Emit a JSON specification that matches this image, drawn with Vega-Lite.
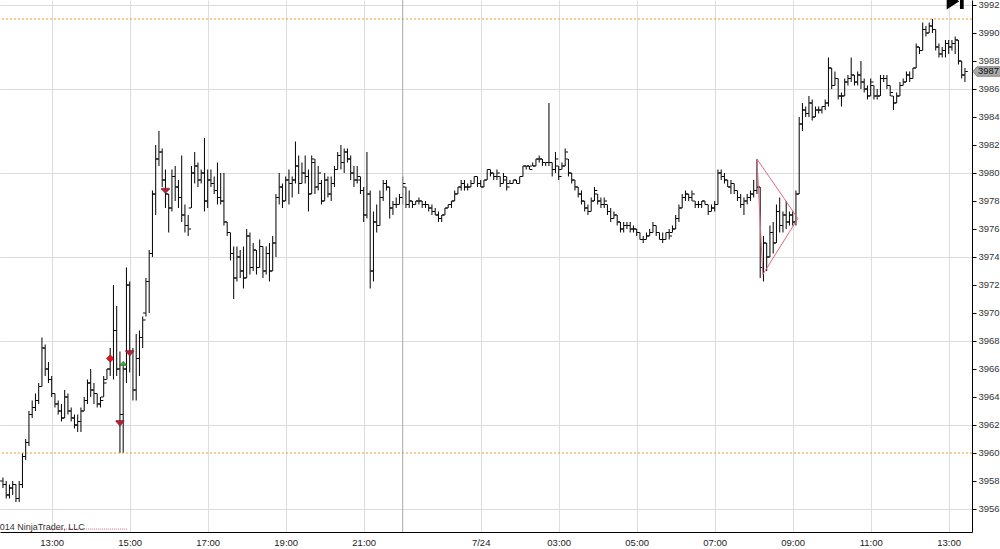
{
"$schema": "https://vega.github.io/schema/vega-lite/v6.json",
"width": 972, "height": 532,
"autosize": {"type": "none"},
"padding": {"left": 0, "top": 0, "right": 28, "bottom": 17},
"background": "white",
"config": {"view": {"stroke": null}, "font": "Liberation Sans"},
"resolve": {"axis": {"x": "independent", "y": "independent"}},
"datasets": {
"bars": [
{"i":-15,"o":3958,"h":3958.25,"l":3957.5,"c":3957.75},
{"i":-14,"o":3957.75,"h":3958,"l":3956.75,"c":3957},
{"i":-13,"o":3957,"h":3957.75,"l":3956.75,"c":3957.5},
{"i":-12,"o":3957.5,"h":3958,"l":3957,"c":3957.75},
{"i":-11,"o":3957.75,"h":3957.75,"l":3956.5,"c":3956.75},
{"i":-10,"o":3956.75,"h":3958,"l":3956.5,"c":3957.75},
{"i":-9,"o":3957.75,"h":3960,"l":3957.5,"c":3959.75},
{"i":-8,"o":3959.75,"h":3961,"l":3959.5,"c":3960.75},
{"i":-7,"o":3960.75,"h":3963,"l":3960.5,"c":3962.75},
{"i":-6,"o":3962.75,"h":3963.75,"l":3962.5,"c":3963.25},
{"i":-5,"o":3963.25,"h":3964.25,"l":3963,"c":3963.75},
{"i":-4,"o":3963.75,"h":3965,"l":3963.5,"c":3964.75},
{"i":-3,"o":3964.75,"h":3968.25,"l":3964.75,"c":3967.5},
{"i":-2,"o":3967.5,"h":3967.75,"l":3965.5,"c":3966},
{"i":-1,"o":3966,"h":3966.5,"l":3965,"c":3965.25},
{"i":0,"o":3965.25,"h":3965.5,"l":3964,"c":3964.25},
{"i":1,"o":3964.25,"h":3964.25,"l":3963.25,"c":3963.5},
{"i":2,"o":3963.5,"h":3963.75,"l":3962.75,"c":3963},
{"i":3,"o":3963,"h":3963.5,"l":3962.25,"c":3962.5},
{"i":4,"o":3962.5,"h":3964.5,"l":3962.5,"c":3964},
{"i":5,"o":3964,"h":3964.25,"l":3962.75,"c":3963},
{"i":6,"o":3963,"h":3963.25,"l":3962.25,"c":3962.5},
{"i":7,"o":3962.5,"h":3962.75,"l":3961.75,"c":3962},
{"i":8,"o":3962,"h":3962.75,"l":3961.5,"c":3962.25},
{"i":9,"o":3962.25,"h":3963.25,"l":3961.5,"c":3963},
{"i":10,"o":3963,"h":3964,"l":3963,"c":3963.75},
{"i":11,"o":3963.75,"h":3965.25,"l":3963.5,"c":3965},
{"i":12,"o":3965,"h":3966,"l":3964,"c":3964.5},
{"i":13,"o":3964.5,"h":3965,"l":3963.5,"c":3964.25},
{"i":14,"o":3964.25,"h":3964.25,"l":3963.25,"c":3963.5},
{"i":15,"o":3963.5,"h":3964,"l":3963.25,"c":3963.75},
{"i":16,"o":3964,"h":3965.5,"l":3964,"c":3965},
{"i":17,"o":3965.25,"h":3966,"l":3965.25,"c":3966},
{"i":18,"o":3966,"h":3967.5,"l":3965.5,"c":3966.75},
{"i":19,"o":3966.75,"h":3972,"l":3965.25,"c":3968.75},
{"i":20,"o":3968.75,"h":3970.5,"l":3965.5,"c":3966},
{"i":21,"o":3966,"h":3967.25,"l":3960,"c":3962.75},
{"i":22,"o":3962.75,"h":3966.25,"l":3960,"c":3966},
{"i":23,"o":3966,"h":3973.25,"l":3965,"c":3972},
{"i":24,"o":3972,"h":3972.25,"l":3965.75,"c":3967.25},
{"i":25,"o":3967.25,"h":3967.5,"l":3963.75,"c":3964.5},
{"i":26,"o":3964.5,"h":3968.5,"l":3963.75,"c":3966.75},
{"i":27,"o":3966.75,"h":3968.75,"l":3965.5,"c":3968.25},
{"i":28,"o":3968.25,"h":3969.75,"l":3967.5,"c":3969.5},
{"i":29,"o":3970,"h":3972.5,"l":3969.75,"c":3972.25},
{"i":30,"o":3972.25,"h":3974.5,"l":3970,"c":3974.25},
{"i":31,"o":3974.25,"h":3978.75,"l":3974,"c":3978.5},
{"i":32,"o":3978.5,"h":3982,"l":3977,"c":3981},
{"i":33,"o":3981,"h":3983,"l":3980.5,"c":3981.5},
{"i":34,"o":3981.5,"h":3981.75,"l":3979,"c":3979.5},
{"i":35,"o":3979.5,"h":3980.25,"l":3977.5,"c":3978.5},
{"i":36,"o":3978.5,"h":3978.5,"l":3975.75,"c":3977.5},
{"i":37,"o":3977.5,"h":3980.25,"l":3977.25,"c":3979.75},
{"i":38,"o":3979.75,"h":3980.5,"l":3978,"c":3979},
{"i":39,"o":3979,"h":3979.5,"l":3977.5,"c":3978.25},
{"i":40,"o":3978.25,"h":3981.25,"l":3976.5,"c":3977},
{"i":41,"o":3977,"h":3977.75,"l":3975.75,"c":3976.25},
{"i":42,"o":3976.25,"h":3977,"l":3975.5,"c":3976},
{"i":43,"o":3977.5,"h":3980.5,"l":3977.5,"c":3980},
{"i":44,"o":3980,"h":3981.5,"l":3979.25,"c":3980.5},
{"i":45,"o":3980.5,"h":3980.75,"l":3979,"c":3979.5},
{"i":46,"o":3979.5,"h":3980.25,"l":3979.25,"c":3980},
{"i":47,"o":3980,"h":3982.5,"l":3977.25,"c":3978},
{"i":48,"o":3978,"h":3980.25,"l":3977.5,"c":3979.5},
{"i":49,"o":3979.5,"h":3980.25,"l":3979,"c":3979.25},
{"i":50,"o":3979.25,"h":3979.75,"l":3978.5,"c":3978.75},
{"i":51,"o":3978.75,"h":3980.75,"l":3977.75,"c":3978.25},
{"i":52,"o":3978.25,"h":3980,"l":3977.75,"c":3978},
{"i":53,"o":3978,"h":3980,"l":3976.25,"c":3976.5},
{"i":54,"o":3976.5,"h":3976.5,"l":3975.5,"c":3975.75},
{"i":55,"o":3975.75,"h":3975.75,"l":3973.75,"c":3974.25},
{"i":56,"o":3974.25,"h":3974.75,"l":3971,"c":3972.5},
{"i":57,"o":3972.5,"h":3974.75,"l":3972.25,"c":3974},
{"i":58,"o":3974,"h":3974.5,"l":3972.5,"c":3973},
{"i":59,"o":3973,"h":3974.75,"l":3971.75,"c":3972.5},
{"i":60,"o":3972.5,"h":3976,"l":3972.5,"c":3975.5},
{"i":61,"o":3975.5,"h":3975.75,"l":3972.75,"c":3973.25},
{"i":62,"o":3973.25,"h":3975,"l":3973,"c":3974.5},
{"i":63,"o":3974.5,"h":3974.5,"l":3972.75,"c":3973.25},
{"i":64,"o":3973.25,"h":3975.25,"l":3973.25,"c":3974.75},
{"i":65,"o":3974.75,"h":3974.75,"l":3972.5,"c":3973},
{"i":66,"o":3973,"h":3974.75,"l":3972.75,"c":3974.25},
{"i":67,"o":3974.25,"h":3975,"l":3972.25,"c":3973},
{"i":68,"o":3973,"h":3975.5,"l":3973,"c":3975},
{"i":69,"o":3975,"h":3978.5,"l":3974,"c":3978.25},
{"i":70,"o":3978.25,"h":3980,"l":3977.75,"c":3979},
{"i":71,"o":3979,"h":3979.25,"l":3977.5,"c":3978},
{"i":72,"o":3978,"h":3979.75,"l":3978,"c":3979.5},
{"i":73,"o":3979.5,"h":3980.25,"l":3977.75,"c":3979.25},
{"i":74,"o":3979.25,"h":3979.75,"l":3978.25,"c":3979.5},
{"i":75,"o":3979.5,"h":3982.25,"l":3979.25,"c":3980.5},
{"i":76,"o":3980.5,"h":3981.25,"l":3978.5,"c":3979.25},
{"i":77,"o":3979.25,"h":3980.75,"l":3979.25,"c":3980},
{"i":78,"o":3980,"h":3981.25,"l":3979.25,"c":3979.75},
{"i":79,"o":3979.75,"h":3980.25,"l":3977.25,"c":3978.5},
{"i":80,"o":3978.5,"h":3981.25,"l":3978.5,"c":3981},
{"i":81,"o":3980.75,"h":3981,"l":3978.5,"c":3979},
{"i":82,"o":3979,"h":3980.5,"l":3978.75,"c":3980},
{"i":83,"o":3979.25,"h":3979.5,"l":3977.75,"c":3978},
{"i":84,"o":3978,"h":3980,"l":3978,"c":3979.5},
{"i":85,"o":3979.5,"h":3979.75,"l":3978.25,"c":3978.5},
{"i":86,"o":3978.5,"h":3979.75,"l":3978,"c":3979.25},
{"i":87,"o":3979.25,"h":3980.5,"l":3979,"c":3980.25},
{"i":88,"o":3980.25,"h":3981.5,"l":3980.25,"c":3981.25},
{"i":89,"o":3981.25,"h":3982,"l":3980.25,"c":3980.75},
{"i":90,"o":3980.75,"h":3981.75,"l":3980,"c":3981.5},
{"i":91,"o":3981.5,"h":3981.75,"l":3980.75,"c":3981},
{"i":92,"o":3981,"h":3981.25,"l":3979.5,"c":3980},
{"i":93,"o":3980,"h":3980.5,"l":3979,"c":3979.5},
{"i":94,"o":3979.5,"h":3980.5,"l":3979.25,"c":3979.75},
{"i":95,"o":3979.5,"h":3979.75,"l":3978.5,"c":3978.75},
{"i":96,"o":3978.75,"h":3979,"l":3976.5,"c":3977},
{"i":97,"o":3977,"h":3981.5,"l":3976.75,"c":3978.5},
{"i":98,"o":3978.5,"h":3978.75,"l":3971.75,"c":3973},
{"i":99,"o":3973,"h":3977.25,"l":3972.25,"c":3976.5},
{"i":100,"o":3976.5,"h":3977.75,"l":3975.75,"c":3976.25},
{"i":101,"o":3976.25,"h":3978.75,"l":3976.25,"c":3978.25},
{"i":102,"o":3978.25,"h":3979.5,"l":3978,"c":3979.25},
{"i":103,"o":3979.25,"h":3979.5,"l":3978.75,"c":3979},
{"i":104,"o":3979,"h":3979,"l":3976.75,"c":3977.5},
{"i":105,"o":3977.5,"h":3978,"l":3977,"c":3977.75},
{"i":106,"o":3977.75,"h":3978.25,"l":3977.5,"c":3977.75},
{"i":107,"o":3977.75,"h":3978.5,"l":3977.75,"c":3978.25},
{"i":108,"o":3978.25,"h":3979.75,"l":3977.75,"c":3979.25},
{"i":109,"o":3979,"h":3979,"l":3977.5,"c":3977.75},
{"i":110,"o":3977.75,"h":3978.75,"l":3977.5,"c":3978},
{"i":111,"o":3978,"h":3978,"l":3977.5,"c":3977.75},
{"i":112,"o":3977.75,"h":3978,"l":3977.75,"c":3978},
{"i":113,"o":3978,"h":3978.25,"l":3977.75,"c":3978},
{"i":114,"o":3978,"h":3978,"l":3977.5,"c":3977.75},
{"i":115,"o":3977.75,"h":3978,"l":3977.5,"c":3977.75},
{"i":116,"o":3977.75,"h":3977.75,"l":3977.25,"c":3977.5},
{"i":117,"o":3977.5,"h":3977.75,"l":3977,"c":3977.25},
{"i":118,"o":3977.25,"h":3977.5,"l":3977,"c":3977},
{"i":119,"o":3977,"h":3977.25,"l":3976.5,"c":3976.75},
{"i":120,"o":3976.75,"h":3977,"l":3976.5,"c":3977},
{"i":121,"o":3977,"h":3977.5,"l":3977,"c":3977.5},
{"i":122,"o":3977.5,"h":3977.75,"l":3977.5,"c":3977.75},
{"i":123,"o":3977.75,"h":3978,"l":3977.5,"c":3978},
{"i":124,"o":3978,"h":3978.75,"l":3978,"c":3978.5},
{"i":125,"o":3978.5,"h":3979,"l":3978.5,"c":3979},
{"i":126,"o":3979,"h":3979.5,"l":3978.75,"c":3979.25},
{"i":127,"o":3979.25,"h":3979.5,"l":3978.75,"c":3979},
{"i":128,"o":3979,"h":3979.25,"l":3978.75,"c":3979},
{"i":129,"o":3979,"h":3979.5,"l":3979,"c":3979.25},
{"i":130,"o":3979.25,"h":3979.75,"l":3979.25,"c":3979.75},
{"i":131,"o":3979.75,"h":3979.75,"l":3979,"c":3979.25},
{"i":132,"o":3979.25,"h":3979.5,"l":3979,"c":3979},
{"i":133,"o":3979,"h":3979.5,"l":3979,"c":3979.5},
{"i":134,"o":3979.5,"h":3980.25,"l":3979.5,"c":3980.25},
{"i":135,"o":3980.25,"h":3980.25,"l":3979.75,"c":3980},
{"i":136,"o":3980,"h":3980,"l":3979.5,"c":3979.75},
{"i":137,"o":3979.75,"h":3980.25,"l":3979.5,"c":3980},
{"i":138,"o":3979.75,"h":3979.75,"l":3979,"c":3979.25},
{"i":139,"o":3979.25,"h":3980,"l":3979.25,"c":3979.75},
{"i":140,"o":3979.5,"h":3979.75,"l":3978.75,"c":3979},
{"i":141,"o":3979.25,"h":3979.5,"l":3979.25,"c":3979.25},
{"i":142,"o":3979.25,"h":3979.5,"l":3979.25,"c":3979.5},
{"i":143,"o":3979.5,"h":3979.5,"l":3979.25,"c":3979.25},
{"i":144,"o":3979.25,"h":3979.75,"l":3979.25,"c":3979.75},
{"i":145,"o":3979.75,"h":3980.5,"l":3979.75,"c":3980.5},
{"i":146,"o":3980.5,"h":3980.5,"l":3980.25,"c":3980.5},
{"i":147,"o":3980.5,"h":3980.5,"l":3980.25,"c":3980.25},
{"i":148,"o":3980.5,"h":3980.75,"l":3980.5,"c":3980.5},
{"i":149,"o":3980.5,"h":3981,"l":3980.5,"c":3981},
{"i":150,"o":3981,"h":3981.25,"l":3980.75,"c":3981},
{"i":151,"o":3981,"h":3981,"l":3980.5,"c":3980.75},
{"i":152,"o":3980.75,"h":3980.75,"l":3980.5,"c":3980.75},
{"i":153,"o":3980.75,"h":3985,"l":3980.5,"c":3980.75},
{"i":154,"o":3980.75,"h":3980.75,"l":3979.75,"c":3980.25},
{"i":155,"o":3980.25,"h":3981.5,"l":3980,"c":3981},
{"i":156,"o":3980.5,"h":3980.5,"l":3979.5,"c":3979.75},
{"i":157,"o":3980.25,"h":3980.75,"l":3980.25,"c":3980.5},
{"i":158,"o":3980.5,"h":3981.75,"l":3980.5,"c":3981.5},
{"i":159,"o":3981,"h":3981,"l":3979.75,"c":3980},
{"i":160,"o":3980,"h":3980,"l":3979.25,"c":3979.5},
{"i":161,"o":3979.5,"h":3979.5,"l":3978.75,"c":3979},
{"i":162,"o":3979,"h":3979,"l":3978.25,"c":3978.5},
{"i":163,"o":3978.5,"h":3978.75,"l":3977.75,"c":3978},
{"i":164,"o":3978,"h":3978,"l":3977.25,"c":3977.5},
{"i":165,"o":3977.5,"h":3977.75,"l":3977,"c":3977.25},
{"i":166,"o":3977.25,"h":3978.25,"l":3977.25,"c":3978},
{"i":167,"o":3978,"h":3979,"l":3978,"c":3978.75},
{"i":168,"o":3978.5,"h":3978.5,"l":3977.75,"c":3978},
{"i":169,"o":3978,"h":3978.25,"l":3977.5,"c":3977.75},
{"i":170,"o":3977.75,"h":3978.25,"l":3977.5,"c":3978},
{"i":171,"o":3977.75,"h":3977.75,"l":3977,"c":3977.25},
{"i":172,"o":3977.25,"h":3977.5,"l":3976.5,"c":3976.75},
{"i":173,"o":3976.75,"h":3977.25,"l":3976.75,"c":3977},
{"i":174,"o":3977,"h":3977,"l":3976.25,"c":3976.5},
{"i":175,"o":3976.5,"h":3976.5,"l":3975.75,"c":3976},
{"i":176,"o":3976,"h":3976.5,"l":3975.75,"c":3976.25},
{"i":177,"o":3976.25,"h":3976.5,"l":3976,"c":3976.25},
{"i":178,"o":3976.25,"h":3976.5,"l":3975.75,"c":3976},
{"i":179,"o":3976,"h":3976.25,"l":3975.75,"c":3976},
{"i":180,"o":3976,"h":3976,"l":3975.5,"c":3975.75},
{"i":181,"o":3975.75,"h":3975.75,"l":3975.25,"c":3975.25},
{"i":182,"o":3975.25,"h":3975.5,"l":3975,"c":3975.25},
{"i":183,"o":3975.25,"h":3975.75,"l":3975.25,"c":3975.5},
{"i":184,"o":3975.5,"h":3976,"l":3975.5,"c":3975.75},
{"i":185,"o":3975.75,"h":3976.5,"l":3975.75,"c":3976.25},
{"i":186,"o":3976.25,"h":3976.25,"l":3975.5,"c":3975.75},
{"i":187,"o":3975.75,"h":3975.75,"l":3975.25,"c":3975.25},
{"i":188,"o":3975.25,"h":3975.75,"l":3975,"c":3975.25},
{"i":189,"o":3975.25,"h":3975.75,"l":3975.25,"c":3975.75},
{"i":190,"o":3975.75,"h":3976,"l":3975.25,"c":3975.5},
{"i":191,"o":3975.75,"h":3976.25,"l":3975.75,"c":3976},
{"i":192,"o":3976,"h":3977,"l":3976,"c":3976.75},
{"i":193,"o":3976.75,"h":3977.75,"l":3976.5,"c":3977.5},
{"i":194,"o":3977.5,"h":3978.5,"l":3977.5,"c":3978.25},
{"i":195,"o":3978.25,"h":3978.75,"l":3978,"c":3978.5},
{"i":196,"o":3978.5,"h":3978.5,"l":3978,"c":3978.25},
{"i":197,"o":3978.25,"h":3978.75,"l":3978,"c":3978.5},
{"i":198,"o":3978,"h":3978,"l":3977.5,"c":3977.75},
{"i":199,"o":3977.75,"h":3978,"l":3977.5,"c":3977.75},
{"i":200,"o":3977.75,"h":3978,"l":3977.5,"c":3978},
{"i":201,"o":3978,"h":3978,"l":3977.75,"c":3977.75},
{"i":202,"o":3977.75,"h":3977.75,"l":3977,"c":3977.25},
{"i":203,"o":3977.25,"h":3977.75,"l":3977.25,"c":3977.5},
{"i":204,"o":3977.5,"h":3978,"l":3977.25,"c":3977.75},
{"i":205,"o":3977.75,"h":3980.25,"l":3977.75,"c":3980},
{"i":206,"o":3980,"h":3980.25,"l":3979.5,"c":3979.75},
{"i":207,"o":3979.75,"h":3980,"l":3979.25,"c":3979.5},
{"i":208,"o":3979.5,"h":3979.5,"l":3979,"c":3979},
{"i":209,"o":3979,"h":3979.5,"l":3978.5,"c":3979.25},
{"i":210,"o":3979.25,"h":3979.25,"l":3978.5,"c":3978.75},
{"i":211,"o":3978.75,"h":3978.75,"l":3978,"c":3978.25},
{"i":212,"o":3978.25,"h":3978.5,"l":3977.5,"c":3977.75},
{"i":213,"o":3977.75,"h":3978.25,"l":3977,"c":3978},
{"i":214,"o":3978,"h":3978.5,"l":3977.75,"c":3978.25},
{"i":215,"o":3978.25,"h":3978.75,"l":3978,"c":3978.5},
{"i":216,"o":3978.5,"h":3979.5,"l":3978.25,"c":3978.75},
{"i":217,"o":3978.75,"h":3981,"l":3978.5,"c":3979},
{"i":218,"o":3979,"h":3979,"l":3972.5,"c":3973.25},
{"i":219,"o":3973.25,"h":3975.5,"l":3972.25,"c":3975},
{"i":220,"o":3975,"h":3975,"l":3973,"c":3974},
{"i":221,"o":3974,"h":3976.25,"l":3974,"c":3975.75},
{"i":222,"o":3975.75,"h":3976.5,"l":3974.25,"c":3975},
{"i":223,"o":3975,"h":3977.75,"l":3975,"c":3977.25},
{"i":224,"o":3977.25,"h":3978.25,"l":3975.75,"c":3976.25},
{"i":225,"o":3976.25,"h":3977.25,"l":3975.75,"c":3977},
{"i":226,"o":3977,"h":3978,"l":3976,"c":3976.5},
{"i":227,"o":3976.5,"h":3977.25,"l":3976.25,"c":3977},
{"i":228,"o":3977,"h":3977.25,"l":3976.25,"c":3976.5},
{"i":229,"o":3976.5,"h":3978.75,"l":3976.25,"c":3978.5},
{"i":230,"o":3978.5,"h":3984,"l":3978.5,"c":3983.5},
{"i":231,"o":3983.5,"h":3985,"l":3983,"c":3984.5},
{"i":232,"o":3984.5,"h":3984.75,"l":3984,"c":3984.25},
{"i":233,"o":3984.25,"h":3985.5,"l":3984,"c":3985},
{"i":234,"o":3985,"h":3985.25,"l":3983.75,"c":3984},
{"i":235,"o":3984,"h":3984.75,"l":3984,"c":3984.5},
{"i":236,"o":3984.5,"h":3984.75,"l":3984.25,"c":3984.5},
{"i":237,"o":3984.5,"h":3984.75,"l":3984.25,"c":3984.75},
{"i":238,"o":3984.75,"h":3985.25,"l":3984.5,"c":3985},
{"i":239,"o":3985,"h":3988.25,"l":3984.75,"c":3987.5},
{"i":240,"o":3987.5,"h":3987.5,"l":3986,"c":3986.25},
{"i":241,"o":3986.25,"h":3987.25,"l":3986.25,"c":3986.75},
{"i":242,"o":3986.75,"h":3986.75,"l":3985.25,"c":3985.5},
{"i":243,"o":3985.5,"h":3985.75,"l":3984.75,"c":3985.5},
{"i":244,"o":3985.5,"h":3986.75,"l":3985.5,"c":3986.5},
{"i":245,"o":3986.5,"h":3987,"l":3986.25,"c":3986.75},
{"i":246,"o":3986.75,"h":3988.25,"l":3986.5,"c":3987},
{"i":247,"o":3987,"h":3987,"l":3986.25,"c":3986.5},
{"i":248,"o":3986.5,"h":3987.25,"l":3986.25,"c":3987},
{"i":249,"o":3987,"h":3988,"l":3986,"c":3986.5},
{"i":250,"o":3986.5,"h":3986.75,"l":3985.75,"c":3986},
{"i":251,"o":3986,"h":3986.25,"l":3985.25,"c":3985.5},
{"i":252,"o":3985.5,"h":3986.75,"l":3985.5,"c":3986.5},
{"i":253,"o":3986.25,"h":3986.25,"l":3985.25,"c":3985.5},
{"i":254,"o":3985.5,"h":3986,"l":3985.25,"c":3985.5},
{"i":255,"o":3985.5,"h":3987,"l":3985.5,"c":3986.75},
{"i":256,"o":3986.75,"h":3987,"l":3986.5,"c":3986.75},
{"i":257,"o":3986.75,"h":3987,"l":3986,"c":3986.25},
{"i":258,"o":3986.25,"h":3986.25,"l":3985.5,"c":3985.75},
{"i":259,"o":3985.5,"h":3985.5,"l":3984.5,"c":3985},
{"i":260,"o":3985,"h":3985.75,"l":3985,"c":3985.5},
{"i":261,"o":3985.5,"h":3986.5,"l":3985.5,"c":3986.25},
{"i":262,"o":3986.25,"h":3986.75,"l":3986.25,"c":3986.5},
{"i":263,"o":3986.5,"h":3987.25,"l":3986.5,"c":3987},
{"i":264,"o":3987,"h":3987.25,"l":3986.5,"c":3986.75},
{"i":265,"o":3986.75,"h":3987.5,"l":3986.75,"c":3987.5},
{"i":266,"o":3987.5,"h":3989.25,"l":3987.5,"c":3989},
{"i":267,"o":3989,"h":3989,"l":3988.5,"c":3988.75},
{"i":268,"o":3988.75,"h":3990.75,"l":3988.75,"c":3990.25},
{"i":269,"o":3990.25,"h":3990.5,"l":3989.75,"c":3990},
{"i":270,"o":3990,"h":3990.75,"l":3990,"c":3990.5},
{"i":271,"o":3990.5,"h":3991,"l":3990,"c":3990.25},
{"i":272,"o":3990.25,"h":3990.25,"l":3988.75,"c":3989},
{"i":273,"o":3989,"h":3989.25,"l":3988.25,"c":3988.5},
{"i":274,"o":3988.5,"h":3989,"l":3988.25,"c":3988.75},
{"i":275,"o":3988.75,"h":3989.5,"l":3988.25,"c":3989.25},
{"i":276,"o":3989.25,"h":3989.5,"l":3988.5,"c":3989},
{"i":277,"o":3989,"h":3989.5,"l":3988.75,"c":3989.25},
{"i":278,"o":3989.25,"h":3989.75,"l":3988.5,"c":3989.5},
{"i":279,"o":3989.5,"h":3989.5,"l":3987.75,"c":3988},
{"i":280,"o":3988,"h":3988,"l":3986.75,"c":3987},
{"i":281,"o":3987,"h":3987.5,"l":3986.5,"c":3987.25}
],
"levels": [{"p": 3991}, {"p": 3960}],
"session": [{"i": 108}],
"tri": [{"i": 217, "p": 3981, "k": 0}, {"i": 229.6, "p": 3976.75, "k": 1}, {"i": 218.8, "p": 3972.75, "k": 2}, {"i": 217, "p": 3981, "k": 3}],
"copyline": [{"a": -0.5, "b": 23.5, "p": 3954.57}],
"copytext": [{"i": -15.908, "p": 3954.5, "t": "©2014 NinjaTrader, LLC"}],
"diam": [{"i": 18, "p": 3966.75}],
"buy": [{"i": 22, "p": 3966.4}],
"sell": [{"i": 21, "p": 3962.1}, {"i": 24, "p": 3967.1}, {"i": 35, "p": 3978.7}],
"tag": [{"i": 283.17, "p": 3987.25, "t": "3987.25"}],
"icon": [{"i": 278.0, "p": 3992.29}]
},
"layer": [
{
"data": {"name": "bars"},
"mark": {"type": "rule", "color": "#000000", "strokeWidth": 1},
"encoding": {
"x": {"field": "i", "type": "quantitative",
"scale": {"domain": [-15.908, 283.17], "nice": false, "zero": false},
"axis": {"title": null, "values": [0, 24, 48, 72, 96, 132, 156, 180, 204, 228, 252, 276],
"labelExpr": "datum.value == 132 ? '7/24' : pad(toString(datum.value < 132 ? 13 + datum.value / 12 : datum.value / 12 - 10), 2, '0', 'left') + ':00'",
"grid": true, "gridColor": "#DCDCDC", "gridWidth": 1, "ticks": false, "tickSize": 0,
"domainColor": "#000000", "domainWidth": 1, "labelFontSize": 9.5, "labelColor": "#222222",
"labelPadding": 5, "labelFlush": false, "labelOverlap": false, "labelFont": "Liberation Sans"}},
"y": {"field": "l", "type": "quantitative",
"scale": {"domain": [3954.357, 3992.357], "nice": false, "zero": false},
"axis": {"title": null, "orient": "right",
"values": [3956, 3958, 3960, 3962, 3964, 3966, 3968, 3970, 3972, 3974, 3976, 3978, 3980, 3982, 3984, 3986, 3988, 3990, 3992],
"format": ".2f", "grid": true, "gridColor": "#DCDCDC", "gridWidth": 1,
"gridOpacity": {"condition": {"test": "(datum.value - 3956) % 6 == 0", "value": 1}, "value": 0},
"tickSize": 4, "tickColor": "#000000", "domainColor": "#000000", "domainWidth": 1,
"labelFontSize": 9.5, "labelColor": "#333333", "labelPadding": 2, "labelFlush": false, "labelOverlap": false, "labelFont": "Liberation Sans"}},
"y2": {"field": "h"}
}
},
{
"data": {"name": "levels"},
"mark": {"type": "rule", "color": "#E8A030", "strokeWidth": 1, "strokeDash": [2, 2]},
"encoding": {"y": {"field": "p", "type": "quantitative", "scale": {"domain": [3954.357, 3992.357], "nice": false, "zero": false}, "axis": null}}
},
{
"data": {"name": "session"},
"mark": {"type": "rule", "color": "#A8A8A8", "strokeWidth": 1},
"encoding": {"x": {"field": "i", "type": "quantitative", "scale": {"domain": [-15.908, 283.17], "nice": false, "zero": false}, "axis": null}}
},
{
"data": {"name": "bars"},
"mark": {"type": "tick", "orient": "horizontal", "size": 2.5, "thickness": 1, "xOffset": -1.6, "color": "#000000", "opacity": 1},
"encoding": {
"x": {"field": "i", "type": "quantitative", "scale": {"domain": [-15.908, 283.17], "nice": false, "zero": false}, "axis": null},
"y": {"field": "o", "type": "quantitative", "scale": {"domain": [3954.357, 3992.357], "nice": false, "zero": false}, "axis": null}
}
},
{
"data": {"name": "bars"},
"mark": {"type": "tick", "orient": "horizontal", "size": 2.5, "thickness": 1, "xOffset": 1.6, "color": "#000000", "opacity": 1},
"encoding": {
"x": {"field": "i", "type": "quantitative", "scale": {"domain": [-15.908, 283.17], "nice": false, "zero": false}, "axis": null},
"y": {"field": "c", "type": "quantitative", "scale": {"domain": [3954.357, 3992.357], "nice": false, "zero": false}, "axis": null}
}
},
{
"data": {"name": "tri"},
"mark": {"type": "line", "color": "#DC6A86", "strokeWidth": 1},
"encoding": {
"x": {"field": "i", "type": "quantitative", "scale": {"domain": [-15.908, 283.17], "nice": false, "zero": false}, "axis": null},
"y": {"field": "p", "type": "quantitative", "scale": {"domain": [3954.357, 3992.357], "nice": false, "zero": false}, "axis": null},
"order": {"field": "k", "type": "quantitative"}
}
},
{
"data": {"name": "copyline"},
"mark": {"type": "rule", "color": "#DC6A86", "strokeWidth": 1, "strokeDash": [1, 1]},
"encoding": {
"x": {"field": "a", "type": "quantitative", "scale": {"domain": [-15.908, 283.17], "nice": false, "zero": false}, "axis": null},
"x2": {"field": "b"},
"y": {"field": "p", "type": "quantitative", "scale": {"domain": [3954.357, 3992.357], "nice": false, "zero": false}, "axis": null}
}
},
{
"data": {"name": "copytext"},
"mark": {"type": "text", "align": "left", "baseline": "alphabetic", "dx": -12, "fontSize": 9, "color": "#333333", "font": "Liberation Sans"},
"encoding": {
"x": {"field": "i", "type": "quantitative", "scale": {"domain": [-15.908, 283.17], "nice": false, "zero": false}, "axis": null},
"y": {"field": "p", "type": "quantitative", "scale": {"domain": [3954.357, 3992.357], "nice": false, "zero": false}, "axis": null},
"text": {"field": "t"}
}
},
{
"data": {"name": "diam"},
"mark": {"type": "point", "shape": "diamond", "size": 55, "filled": true, "fill": "#E3141C", "stroke": "#8A0000", "strokeWidth": 0.6, "opacity": 1},
"encoding": {
"x": {"field": "i", "type": "quantitative", "scale": {"domain": [-15.908, 283.17], "nice": false, "zero": false}, "axis": null},
"y": {"field": "p", "type": "quantitative", "scale": {"domain": [3954.357, 3992.357], "nice": false, "zero": false}, "axis": null}
}
},
{
"data": {"name": "buy"},
"mark": {"type": "point", "shape": "M-1,0.55L1,0.55L0,-0.55Z", "size": 56, "filled": true, "fill": "#3FA83F", "stroke": "#1E6A1E", "strokeWidth": 0.6, "opacity": 1},
"encoding": {
"x": {"field": "i", "type": "quantitative", "scale": {"domain": [-15.908, 283.17], "nice": false, "zero": false}, "axis": null},
"y": {"field": "p", "type": "quantitative", "scale": {"domain": [3954.357, 3992.357], "nice": false, "zero": false}, "axis": null}
}
},
{
"data": {"name": "sell"},
"mark": {"type": "point", "shape": "M-1,-0.75L1,-0.75L1,-0.5L0,0.6L-1,-0.5Z", "size": 64, "filled": true, "fill": "#B3213A", "stroke": "#6A0E1E", "strokeWidth": 0.5, "opacity": 1},
"encoding": {
"x": {"field": "i", "type": "quantitative", "scale": {"domain": [-15.908, 283.17], "nice": false, "zero": false}, "axis": null},
"y": {"field": "p", "type": "quantitative", "scale": {"domain": [3954.357, 3992.357], "nice": false, "zero": false}, "axis": null}
}
},
{
"data": {"name": "tag"},
"mark": {"type": "point", "shape": "M-1,0L-0.72,-0.34L1,-0.34L1,0.34L-0.72,0.34Z", "size": 784, "xOffset": 15, "filled": true, "fill": "#A9A9A9", "stroke": "#6E6E6E", "strokeWidth": 0.8, "opacity": 1},
"encoding": {
"x": {"field": "i", "type": "quantitative", "scale": {"domain": [-15.908, 283.17], "nice": false, "zero": false}, "axis": null},
"y": {"field": "p", "type": "quantitative", "scale": {"domain": [3954.357, 3992.357], "nice": false, "zero": false}, "axis": null}
}
},
{
"data": {"name": "tag"},
"mark": {"type": "text", "align": "left", "baseline": "middle", "dx": 6, "fontSize": 9.5, "color": "#111111", "font": "Liberation Sans"},
"encoding": {
"x": {"field": "i", "type": "quantitative", "scale": {"domain": [-15.908, 283.17], "nice": false, "zero": false}, "axis": null},
"y": {"field": "p", "type": "quantitative", "scale": {"domain": [3954.357, 3992.357], "nice": false, "zero": false}, "axis": null},
"text": {"field": "t"}
}
},
{
"data": {"name": "icon"},
"mark": {"type": "point", "shape": "M-1,-1L0.48,0.05L-1,1ZM0.56,-1L1,-1L1,0.95L0.56,0.95Z", "size": 289, "filled": true, "fill": "#000000", "strokeWidth": 0, "opacity": 1},
"encoding": {
"x": {"field": "i", "type": "quantitative", "scale": {"domain": [-15.908, 283.17], "nice": false, "zero": false}, "axis": null},
"y": {"field": "p", "type": "quantitative", "scale": {"domain": [3954.357, 3992.357], "nice": false, "zero": false}, "axis": null}
}
}
]
}
